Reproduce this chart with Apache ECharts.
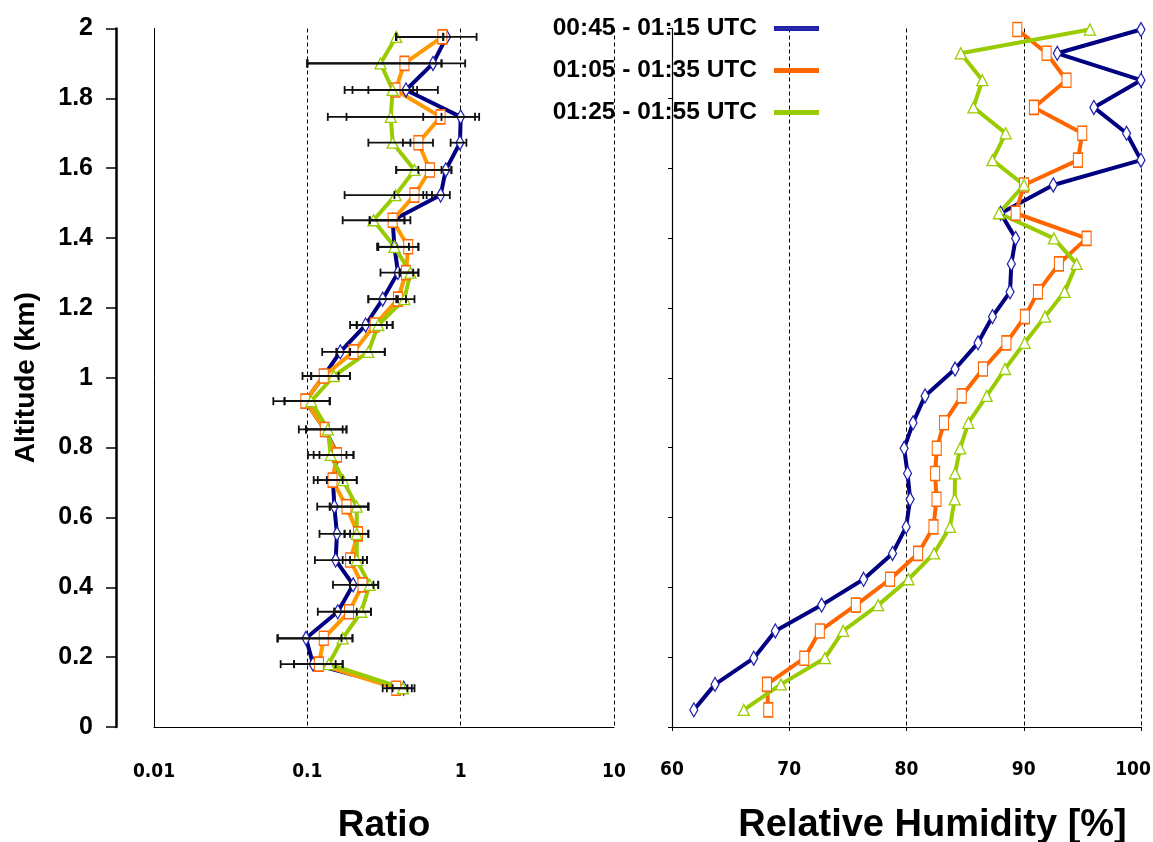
<!DOCTYPE html>
<html>
<head>
<meta charset="utf-8">
<script src="https://cdn.jsdelivr.net/npm/echarts@6/dist/echarts.min.js"></script>
<style>
html,body{margin:0;padding:0;background:#fff;}
#c{width:1153px;height:842px;}
</style>
</head>
<body>
<div id="c"></div>
<script>
// ---------- DATA ----------
var seriesNames = ['00:45 - 01:15 UTC', '01:05 - 01:35 UTC', '01:25 - 01:55 UTC'];
var yTicks = ['0', '0.2', '0.4', '0.6', '0.8', '1', '1.2', '1.4', '1.6', '1.8', '2'];
var ratioTicks = ['0.01', '0.1', '1', '10'];
var rhTicks = ['60', '70', '80', '90', '100'];

// Left panel: altitude (km) of each ratio level
var altRatio = [0.111, 0.180, 0.254, 0.330, 0.407, 0.478, 0.553, 0.631, 0.707, 0.779, 0.852, 0.933, 1.005,
  1.074, 1.151, 1.225, 1.301, 1.375, 1.451, 1.523, 1.595, 1.673, 1.747, 1.824, 1.900, 1.976];
var ratioBlue = [0.425, 0.109, 0.098, 0.158, 0.199, 0.153, 0.156, 0.150, 0.147, 0.158, 0.130, 0.097, 0.128,
  0.164, 0.240, 0.310, 0.390, 0.370, 0.360, 0.740, 0.800, 0.990, 1.000, 0.440, 0.660, 0.810];
var ratioOrange = [0.380, 0.119, 0.128, 0.187, 0.229, 0.190, 0.214, 0.180, 0.146, 0.156, 0.130, 0.097, 0.128,
  0.200, 0.275, 0.390, 0.440, 0.455, 0.360, 0.500, 0.630, 0.530, 0.740, 0.376, 0.430, 0.760];
var ratioGreen = [0.420, 0.138, 0.170, 0.225, 0.255, 0.210, 0.210, 0.210, 0.171, 0.142, 0.136, 0.106, 0.149,
  0.250, 0.290, 0.430, 0.470, 0.370, 0.270, 0.376, 0.500, 0.360, 0.350, 0.360, 0.300, 0.380];
// error bar ends
var blueLo = [0.33, 0.067, 0.064, 0.117, 0.147, 0.112, 0.12, 0.116, 0.11, 0.101, 0.088, 0.06, 0.093,
  0.125, 0.19, 0.25, 0.30, 0.285, 0.255, 0.57, 0.53, 0.86, 0.57, 0.25, 0.1, 0.38];
var blueHi = [0.50, 0.153, 0.167, 0.21, 0.27, 0.23, 0.19, 0.25, 0.17, 0.2, 0.17, 0.14, 0.16,
  0.19, 0.33, 0.38, 0.49, 0.46, 0.47, 0.85, 0.87, 1.09, 1.32, 0.71, 1.07, 1.27];
var orangeLo = [0.31, 0.082, 0.064, 0.15, 0.19, 0.17, 0.175, 0.14, 0.117, 0.11, 0.098, 0.071, 0.106,
  0.155, 0.21, 0.25, 0.40, 0.29, 0.255, 0.37, 0.38, 0.42, 0.18, 0.197, 0.1, 0.38];
var orangeHi = [0.45, 0.17, 0.197, 0.26, 0.29, 0.245, 0.25, 0.25, 0.21, 0.18, 0.18, 0.14, 0.19,
  0.32, 0.36, 0.44, 0.53, 0.53, 0.43, 0.65, 0.87, 0.66, 1.24, 0.52, 0.75, 0.77];
var greenLo = [0.36, 0.082, 0.064, 0.15, 0.19, 0.19, 0.175, 0.14, 0.134, 0.12, 0.098, 0.071, 0.106,
  0.155, 0.21, 0.39, 0.40, 0.29, 0.17, 0.175, 0.38, 0.25, 0.136, 0.175, 0.1, 0.38];
var greenHi = [0.48, 0.17, 0.197, 0.26, 0.29, 0.245, 0.25, 0.25, 0.21, 0.2, 0.18, 0.14, 0.19,
  0.32, 0.36, 0.50, 0.53, 0.53, 0.43, 0.6, 0.75, 0.47, 0.75, 0.49, 0.75, 0.77];

// Right panel: altitude (km) of each RH level
var altRH = [0.049, 0.122, 0.197, 0.275, 0.349, 0.423, 0.497, 0.573, 0.652, 0.726, 0.798, 0.871, 0.948,
  1.025, 1.100, 1.175, 1.246, 1.326, 1.399, 1.471, 1.552, 1.623, 1.700, 1.774, 1.852, 1.929, 1.997];
var rhBlue = [61.86, 63.67, 66.97, 68.81, 72.76, 76.34, 78.81, 79.97, 80.31, 80.09, 79.80, 80.56, 81.58,
  84.14, 86.10, 87.33, 88.83, 88.94, 89.31, 88.03, 92.52, 100.0, 98.77, 95.98, 100.0, 92.86, 100.0];
var rhOrange = [68.21, 68.10, 71.28, 72.61, 75.68, 78.60, 80.99, 82.30, 82.56, 82.44, 82.58, 83.20, 84.71,
  86.52, 88.52, 90.10, 91.21, 93.00, 95.36, 89.31, 90.02, 94.62, 94.99, 90.87, 93.65, 91.95, 89.45];
var rhGreen = [66.12, 69.29, 73.04, 74.60, 77.58, 80.17, 82.35, 83.71, 84.11, 84.14, 84.57, 85.28, 86.84,
  88.40, 90.08, 91.81, 93.48, 94.51, 92.57, 87.89, 90.02, 87.33, 88.46, 85.71, 86.47, 84.63, 95.64];

// ---------- BUILD ----------
function pairs(xs, ys) { return xs.map(function (v, i) { return [v, ys[i]]; }); }
function errData(lo, hi, ys) { return lo.map(function (v, i) { return [v, hi[i], ys[i]]; }); }

var BOLD = "'Liberation Sans', Arial, sans-serif";
var NARROW = "'Liberation Sans Narrow', 'Arial Narrow', 'DejaVu Sans Condensed', sans-serif";
var C_BLUE = '#000080', C_OR_L = '#ff9900', C_OR = '#ff6600', C_GR = '#99cc00';

function errItem(params, api) {
  var a = api.coord([api.value(0), api.value(2)]);
  var b = api.coord([api.value(1), api.value(2)]);
  var h = 4;
  var st = { stroke: '#111', lineWidth: 1.8 };
  return {
    type: 'group', children: [
      { type: 'line', shape: { x1: a[0], y1: a[1], x2: b[0], y2: b[1] }, style: st },
      { type: 'line', shape: { x1: a[0], y1: a[1] - h, x2: a[0], y2: a[1] + h }, style: st },
      { type: 'line', shape: { x1: b[0], y1: b[1] - h, x2: b[0], y2: b[1] + h }, style: st }
    ]
  };
}

function lineSeries(name, data, xi, yi, color, mcolor, symbol, size) {
  return {
    name: name, type: 'line', xAxisIndex: xi, yAxisIndex: yi, data: data,
    symbol: symbol, symbolSize: size, showSymbol: true,
    lineStyle: { color: color, width: 4 },
    itemStyle: { color: '#ffffff', borderColor: mcolor, borderWidth: 1.3 },
    z: 2, animation: false
  };
}
function errSeries(lo, hi) {
  return {
    type: 'custom', name: 'err', xAxisIndex: 0, yAxisIndex: 0,
    data: errData(lo, hi, altRatio), encode: { x: [0, 1], y: 2 },
    renderItem: errItem, z: 3, animation: false, silent: true
  };
}

var dashed = { show: true, lineStyle: { color: '#000', type: [4, 3], width: 1 } };
var tickFont = { fontFamily: NARROW, fontWeight: 'bold', fontSize: 19, color: '#000' };

var option = {
  backgroundColor: '#ffffff',
  animation: false,
  grid: [
    { left: 154, right: 539, top: 28.5, bottom: 115, containLabel: false, outerBoundsMode: 'none' },
    { left: 672, right: 12, top: 28.5, bottom: 115, containLabel: false, outerBoundsMode: 'none' }
  ],
  legend: {
    data: [
      { name: seriesNames[0], itemStyle: { color: '#333399' } },
      { name: seriesNames[1], itemStyle: { color: C_OR } },
      { name: seriesNames[2], itemStyle: { color: C_GR } }
    ],
    orient: 'vertical', right: 329, top: 11, align: 'right',
    icon: 'rect', itemWidth: 43, itemHeight: 3, itemGap: 17,
    selectedMode: false,
    textStyle: { fontFamily: BOLD, fontWeight: 'bold', fontSize: 24.5, color: '#000', lineHeight: 25, padding: [0, 13, 0, 0] }
  },
  xAxis: [
    {
      type: 'log', logBase: 10, min: 0.01, max: 10, gridIndex: 0,
      name: 'Ratio', nameLocation: 'middle', nameGap: 80,
      nameTextStyle: { fontFamily: BOLD, fontWeight: 'bold', fontSize: 37, color: '#000' },
      axisLine: { show: true, lineStyle: { color: '#000', width: 1.2 } },
      axisTick: { show: false },
      axisLabel: Object.assign({
        margin: 36,
        formatter: function (v) {
          var e = Math.round(Math.log10(v)) + 2;
          return ratioTicks[e] !== undefined ? ratioTicks[e] : '';
        }
      }, tickFont),
      splitLine: dashed
    },
    {
      type: 'value', min: 60, max: 100, interval: 10, gridIndex: 1,
      name: 'Relative Humidity [%]', nameLocation: 'middle', nameGap: 80,
      nameTextStyle: { fontFamily: BOLD, fontWeight: 'bold', fontSize: 38, color: '#000', padding: [0, 0, 0, 52] },
      axisLine: { show: true, lineStyle: { color: '#000', width: 1.2 } },
      axisTick: { show: true, length: 4, lineStyle: { color: '#000' } },
      axisLabel: Object.assign({
        margin: 34,
        formatter: function (v) {
          var i = Math.round((v - 60) / 10);
          var s = rhTicks[i] || '';
          return i === rhTicks.length - 1 ? '{m|' + s + '}' : s;
        },
        rich: { m: Object.assign({ padding: [0, 16, 0, 0] }, tickFont) }
      }, tickFont),
      splitLine: dashed
    }
  ],
  yAxis: [
    {
      type: 'value', min: 0, max: 2, interval: 0.2, gridIndex: 0, position: 'left', offset: 38,
      name: 'Altitude (km)', nameLocation: 'middle', nameGap: 76, nameRotate: 90,
      nameTextStyle: { fontFamily: BOLD, fontWeight: 'bold', fontSize: 28, color: '#000' },
      axisLine: { show: true, lineStyle: { color: '#000', width: 2.5 } },
      axisTick: { show: true, inside: false, length: 10, lineStyle: { color: '#000', width: 1.5 } },
      axisLabel: {
        margin: 23, fontFamily: BOLD, fontWeight: 'bold', fontSize: 25, color: '#000',
        formatter: function (v) { var i = Math.round(v / 0.2); return yTicks[i] || ''; }
      },
      splitLine: { show: false }
    },
    {
      type: 'value', min: 0, max: 2, interval: 0.2, gridIndex: 0, position: 'left', offset: 0,
      axisLine: { show: true, lineStyle: { color: '#000', width: 1 } },
      axisTick: { show: false }, axisLabel: { show: false }, splitLine: { show: false }
    },
    {
      type: 'value', min: 0, max: 2, interval: 0.2, gridIndex: 1, position: 'left',
      axisLine: { show: true, lineStyle: { color: '#000', width: 1.2 } },
      axisTick: { show: true, length: 4, lineStyle: { color: '#000' } },
      axisLabel: { show: false }, splitLine: { show: false }
    }
  ],
  series: [
    lineSeries(seriesNames[0], pairs(ratioBlue, altRatio), 0, 0, C_BLUE, '#2020b0', 'diamond', [8, 14]),
    lineSeries(seriesNames[1], pairs(ratioOrange, altRatio), 0, 0, C_OR_L, C_OR, 'rect', [9, 14]),
    lineSeries(seriesNames[2], pairs(ratioGreen, altRatio), 0, 0, C_GR, C_GR, 'triangle', [11, 11]),
    errSeries(blueLo, blueHi),
    errSeries(orangeLo, orangeHi),
    errSeries(greenLo, greenHi),
    lineSeries(seriesNames[0], pairs(rhBlue, altRH), 1, 2, C_BLUE, '#2020b0', 'diamond', [8, 14]),
    lineSeries(seriesNames[1], pairs(rhOrange, altRH), 1, 2, C_OR, C_OR, 'rect', [9, 14]),
    lineSeries(seriesNames[2], pairs(rhGreen, altRH), 1, 2, C_GR, C_GR, 'triangle', [11, 11])
  ]
};

var chart = echarts.init(document.getElementById('c'), null, { renderer: 'canvas' });
chart.setOption(option);
</script>
</body>
</html>
